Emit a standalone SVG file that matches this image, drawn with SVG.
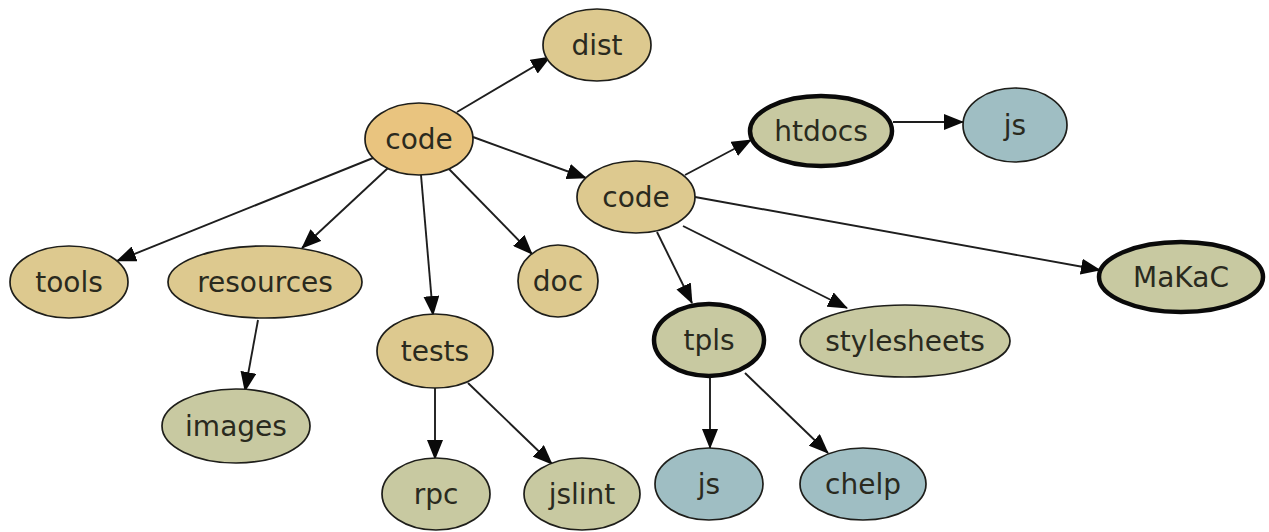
<svg xmlns="http://www.w3.org/2000/svg" width="1269" height="532" viewBox="0 0 1269 532">
<style>
.n ellipse{stroke:#1e1e1a;stroke-width:1.7}
.n.b ellipse{stroke:#0a0a0a;stroke-width:4.5}
.n text{font-family:"DejaVu Sans",sans-serif;font-size:28px;fill:#2a2a1e;text-anchor:middle}
.root ellipse{fill:#e9c47f}
.tan ellipse{fill:#ddc98f}
.grn ellipse{fill:#c8c9a1}
.blu ellipse{fill:#9fbec3}
#edges line{stroke:#1e1e1e;stroke-width:1.9;marker-end:url(#ah)}
</style>
<defs>
<marker id="ah" markerWidth="20" markerHeight="16" refX="19" refY="8" orient="auto" markerUnits="userSpaceOnUse">
<path d="M0,0 L20,8 L0,16 z" fill="#0a0a0a"/>
</marker>
</defs>
<rect width="1269" height="532" fill="#ffffff"/>
<g id="edges">
<line x1="457" y1="112" x2="550" y2="57"/>
<line x1="473" y1="137" x2="586" y2="178"/>
<line x1="685" y1="175" x2="751" y2="140"/>
<line x1="893" y1="122" x2="963" y2="122"/>
<line x1="695" y1="197" x2="1100" y2="270"/>
<line x1="373" y1="158" x2="117" y2="261"/>
<line x1="388" y1="168" x2="302" y2="248"/>
<line x1="258" y1="320" x2="245" y2="391"/>
<line x1="421" y1="175" x2="433" y2="315"/>
<line x1="449" y1="169" x2="532" y2="254"/>
<line x1="435" y1="388" x2="435" y2="459"/>
<line x1="468" y1="383" x2="552" y2="464"/>
<line x1="657" y1="232" x2="692" y2="303"/>
<line x1="683" y1="226" x2="847" y2="308"/>
<line x1="710" y1="378" x2="710" y2="448"/>
<line x1="745" y1="373" x2="828" y2="453"/>
</g>
<g id="code_root" class="n root"><ellipse cx="419" cy="139" rx="54" ry="36"/><text x="419" y="149">code</text></g>
<g id="dist" class="n tan"><ellipse cx="597" cy="45" rx="54" ry="36"/><text x="597" y="55">dist</text></g>
<g id="code2" class="n tan"><ellipse cx="636" cy="197" rx="59" ry="36"/><text x="636" y="207">code</text></g>
<g id="htdocs" class="n grn b"><ellipse cx="821" cy="131" rx="71" ry="35"/><text x="821" y="141">htdocs</text></g>
<g id="js1" class="n blu"><ellipse cx="1015" cy="125" rx="52" ry="37"/><text x="1015" y="135">js</text></g>
<g id="tools" class="n tan"><ellipse cx="69" cy="282" rx="59" ry="36"/><text x="69" y="292">tools</text></g>
<g id="resources" class="n tan"><ellipse cx="265" cy="282" rx="97" ry="36"/><text x="265" y="292">resources</text></g>
<g id="images" class="n grn"><ellipse cx="236" cy="426" rx="74" ry="37"/><text x="236" y="436">images</text></g>
<g id="tests" class="n tan"><ellipse cx="435" cy="351" rx="58" ry="37"/><text x="435" y="361">tests</text></g>
<g id="doc" class="n tan"><ellipse cx="558" cy="281" rx="40" ry="36"/><text x="558" y="291">doc</text></g>
<g id="rpc" class="n grn"><ellipse cx="436" cy="494" rx="54" ry="36"/><text x="436" y="504">rpc</text></g>
<g id="jslint" class="n grn"><ellipse cx="582" cy="494" rx="58" ry="36"/><text x="582" y="504">jslint</text></g>
<g id="tpls" class="n grn b"><ellipse cx="709" cy="340" rx="55" ry="36"/><text x="709" y="350">tpls</text></g>
<g id="stylesheets" class="n grn"><ellipse cx="905" cy="341" rx="105" ry="36"/><text x="905" y="351">stylesheets</text></g>
<g id="js2" class="n blu"><ellipse cx="709" cy="484" rx="54" ry="36"/><text x="709" y="494">js</text></g>
<g id="chelp" class="n blu"><ellipse cx="863" cy="484" rx="63" ry="36"/><text x="863" y="494">chelp</text></g>
<g id="MaKaC" class="n grn b"><ellipse cx="1181" cy="277" rx="82" ry="35"/><text x="1181" y="287">MaKaC</text></g>
</svg>
